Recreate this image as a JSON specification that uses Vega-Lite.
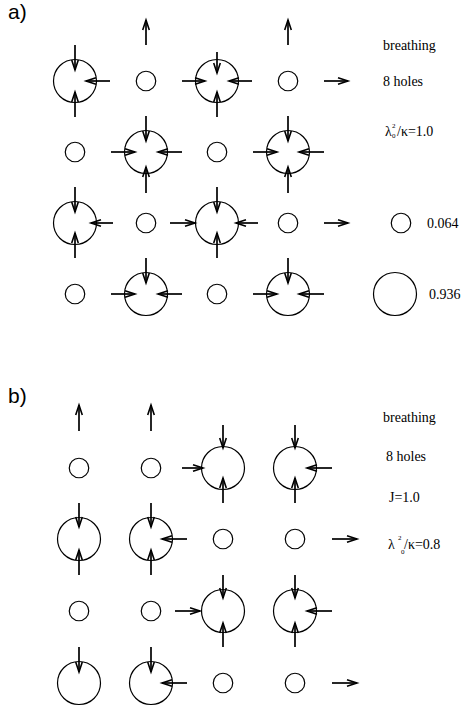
{
  "$schema": "https://vega.github.io/schema/vega-lite/v6.json",
  "width": 463,
  "height": 711,
  "padding": 0,
  "autosize": "none",
  "background": "white",
  "config": {"view": {"stroke": null}},
  "datasets": {
    "sites": [
      {"x": 75, "y": 81, "occ": 0.936}, {"x": 146, "y": 81, "occ": 0.064}, {"x": 217, "y": 81, "occ": 0.936}, {"x": 288, "y": 81, "occ": 0.064},
      {"x": 75, "y": 152, "occ": 0.064}, {"x": 146, "y": 152, "occ": 0.936}, {"x": 217, "y": 152, "occ": 0.064}, {"x": 288, "y": 152, "occ": 0.936},
      {"x": 75, "y": 223, "occ": 0.936}, {"x": 146, "y": 223, "occ": 0.064}, {"x": 217, "y": 223, "occ": 0.936}, {"x": 288, "y": 223, "occ": 0.064},
      {"x": 75, "y": 294, "occ": 0.064}, {"x": 146, "y": 294, "occ": 0.936}, {"x": 217, "y": 294, "occ": 0.064}, {"x": 288, "y": 294, "occ": 0.936},
      {"x": 401, "y": 223, "occ": 0.064}, {"x": 395, "y": 294, "occ": 0.936},
      {"x": 79, "y": 468, "occ": 0.064}, {"x": 151, "y": 468, "occ": 0.064}, {"x": 223, "y": 468, "occ": 0.936}, {"x": 295, "y": 468, "occ": 0.936},
      {"x": 79, "y": 539, "occ": 0.936}, {"x": 151, "y": 539, "occ": 0.936}, {"x": 223, "y": 539, "occ": 0.064}, {"x": 295, "y": 539, "occ": 0.064},
      {"x": 79, "y": 611, "occ": 0.064}, {"x": 151, "y": 611, "occ": 0.064}, {"x": 223, "y": 611, "occ": 0.936}, {"x": 295, "y": 611, "occ": 0.936},
      {"x": 79, "y": 683, "occ": 0.936}, {"x": 151, "y": 683, "occ": 0.936}, {"x": 223, "y": 683, "occ": 0.064}, {"x": 295, "y": 683, "occ": 0.064}
    ],
    "arrows": [
      {"x": 75, "y": 45, "x2": 75, "y2": 70, "dir": 180},
      {"x": 75, "y": 117, "x2": 75, "y2": 92, "dir": 0},
      {"x": 110, "y": 81, "x2": 86, "y2": 81, "dir": 270},
      {"x": 146, "y": 45, "x2": 146, "y2": 20, "dir": 0},
      {"x": 217, "y": 52, "x2": 217, "y2": 73, "dir": 180},
      {"x": 217, "y": 117, "x2": 217, "y2": 92, "dir": 0},
      {"x": 182, "y": 81, "x2": 205, "y2": 81, "dir": 90},
      {"x": 252, "y": 81, "x2": 229, "y2": 81, "dir": 270},
      {"x": 288, "y": 45, "x2": 288, "y2": 20, "dir": 0},
      {"x": 324, "y": 81, "x2": 348, "y2": 81, "dir": 90},
      {"x": 146, "y": 116, "x2": 146, "y2": 141, "dir": 180},
      {"x": 146, "y": 193, "x2": 146, "y2": 167, "dir": 0},
      {"x": 111, "y": 152, "x2": 135, "y2": 152, "dir": 90},
      {"x": 182, "y": 152, "x2": 158, "y2": 152, "dir": 270},
      {"x": 288, "y": 116, "x2": 288, "y2": 141, "dir": 180},
      {"x": 288, "y": 193, "x2": 288, "y2": 167, "dir": 0},
      {"x": 253, "y": 152, "x2": 277, "y2": 152, "dir": 90},
      {"x": 324, "y": 152, "x2": 299, "y2": 152, "dir": 270},
      {"x": 75, "y": 187, "x2": 75, "y2": 212, "dir": 180},
      {"x": 75, "y": 258, "x2": 75, "y2": 233, "dir": 0},
      {"x": 113, "y": 223, "x2": 91, "y2": 223, "dir": 270},
      {"x": 170, "y": 223, "x2": 195, "y2": 223, "dir": 90},
      {"x": 217, "y": 187, "x2": 217, "y2": 212, "dir": 180},
      {"x": 217, "y": 258, "x2": 217, "y2": 233, "dir": 0},
      {"x": 258, "y": 223, "x2": 236, "y2": 223, "dir": 270},
      {"x": 324, "y": 223, "x2": 348, "y2": 223, "dir": 90},
      {"x": 146, "y": 258, "x2": 146, "y2": 283, "dir": 180},
      {"x": 111, "y": 294, "x2": 135, "y2": 294, "dir": 90},
      {"x": 182, "y": 294, "x2": 158, "y2": 294, "dir": 270},
      {"x": 288, "y": 258, "x2": 288, "y2": 283, "dir": 180},
      {"x": 253, "y": 294, "x2": 277, "y2": 294, "dir": 90},
      {"x": 324, "y": 294, "x2": 299, "y2": 294, "dir": 270},
      {"x": 79, "y": 431, "x2": 79, "y2": 405, "dir": 0},
      {"x": 151, "y": 431, "x2": 151, "y2": 405, "dir": 0},
      {"x": 223, "y": 425, "x2": 223, "y2": 448, "dir": 180},
      {"x": 223, "y": 503, "x2": 223, "y2": 478, "dir": 0},
      {"x": 182, "y": 468, "x2": 203, "y2": 468, "dir": 90},
      {"x": 295, "y": 425, "x2": 295, "y2": 448, "dir": 180},
      {"x": 295, "y": 503, "x2": 295, "y2": 478, "dir": 0},
      {"x": 332, "y": 468, "x2": 307, "y2": 468, "dir": 270},
      {"x": 79, "y": 503, "x2": 79, "y2": 527, "dir": 180},
      {"x": 79, "y": 575, "x2": 79, "y2": 550, "dir": 0},
      {"x": 151, "y": 503, "x2": 151, "y2": 527, "dir": 180},
      {"x": 151, "y": 575, "x2": 151, "y2": 550, "dir": 0},
      {"x": 187, "y": 539, "x2": 162, "y2": 539, "dir": 270},
      {"x": 332, "y": 539, "x2": 357, "y2": 539, "dir": 90},
      {"x": 175, "y": 611, "x2": 200, "y2": 611, "dir": 90},
      {"x": 223, "y": 575, "x2": 223, "y2": 598, "dir": 180},
      {"x": 223, "y": 647, "x2": 223, "y2": 623, "dir": 0},
      {"x": 295, "y": 575, "x2": 295, "y2": 598, "dir": 180},
      {"x": 295, "y": 647, "x2": 295, "y2": 623, "dir": 0},
      {"x": 332, "y": 611, "x2": 307, "y2": 611, "dir": 270},
      {"x": 79, "y": 647, "x2": 79, "y2": 672, "dir": 180},
      {"x": 151, "y": 647, "x2": 151, "y2": 672, "dir": 180},
      {"x": 187, "y": 683, "x2": 162, "y2": 683, "dir": 270},
      {"x": 332, "y": 683, "x2": 357, "y2": 683, "dir": 90}
    ],
    "labels": [
      {"x": 383, "y": 46, "text": "breathing", "kind": "main"},
      {"x": 383, "y": 82, "text": "8 holes", "kind": "main"},
      {"x": 385, "y": 132, "text": "λ", "kind": "main"},
      {"x": 397, "y": 132, "text": "/κ=1.0", "kind": "main"},
      {"x": 392, "y": 126, "text": "2", "kind": "script"},
      {"x": 392, "y": 136, "text": "0", "kind": "script"},
      {"x": 427, "y": 224, "text": "0.064", "kind": "main"},
      {"x": 429, "y": 295, "text": "0.936", "kind": "main"},
      {"x": 383, "y": 418, "text": "breathing", "kind": "main"},
      {"x": 386, "y": 457, "text": "8 holes", "kind": "main"},
      {"x": 389, "y": 498, "text": "J=1.0", "kind": "main"},
      {"x": 388, "y": 545, "text": "λ", "kind": "main"},
      {"x": 404, "y": 545, "text": "/κ=0.8", "kind": "main"},
      {"x": 398, "y": 538, "text": "2", "kind": "script"},
      {"x": 401, "y": 552, "text": "0", "kind": "script"},
      {"x": 8, "y": 13, "text": "a)", "kind": "panel"},
      {"x": 8, "y": 397, "text": "b)", "kind": "panel"}
    ]
  },
  "encoding": {
    "x": {"field": "x", "type": "quantitative", "scale": {"domain": [0, 463]}, "axis": null},
    "y": {"field": "y", "type": "quantitative", "scale": {"domain": [0, 711], "reverse": true}, "axis": null}
  },
  "layer": [
    {
      "data": {"name": "sites"},
      "mark": {"type": "point", "shape": "circle", "filled": false, "stroke": "black", "strokeWidth": 1.2, "opacity": 1},
      "encoding": {
        "size": {"field": "occ", "type": "quantitative", "scale": {"domain": [0.064, 0.936], "range": [380, 1849]}, "legend": null}
      }
    },
    {
      "data": {"name": "arrows"},
      "mark": {"type": "rule", "stroke": "black", "strokeWidth": 1.7},
      "encoding": {
        "x2": {"field": "x2"},
        "y2": {"field": "y2"}
      }
    },
    {
      "data": {"name": "arrows"},
      "mark": {"type": "point", "shape": "M -0.33 1 L 0 0 L 0.33 1", "filled": false, "stroke": "black", "strokeWidth": 1.6, "size": 400, "opacity": 1},
      "encoding": {
        "x": {"field": "x2", "type": "quantitative"},
        "y": {"field": "y2", "type": "quantitative"},
        "angle": {"field": "dir", "type": "quantitative", "scale": {"domain": [0, 360], "range": [0, 360]}}
      }
    },
    {
      "data": {"name": "labels"},
      "transform": [{"filter": "datum.kind === 'main'"}],
      "mark": {"type": "text", "align": "left", "baseline": "middle", "font": "Liberation Serif", "fontSize": 14, "color": "black"},
      "encoding": {"text": {"field": "text"}}
    },
    {
      "data": {"name": "labels"},
      "transform": [{"filter": "datum.kind === 'script'"}],
      "mark": {"type": "text", "align": "left", "baseline": "middle", "font": "Liberation Serif", "fontSize": 7, "color": "black"},
      "encoding": {"text": {"field": "text"}}
    },
    {
      "data": {"name": "labels"},
      "transform": [{"filter": "datum.kind === 'panel'"}],
      "mark": {"type": "text", "align": "left", "baseline": "middle", "font": "Liberation Sans", "fontSize": 21, "color": "black"},
      "encoding": {"text": {"field": "text"}}
    }
  ]
}
